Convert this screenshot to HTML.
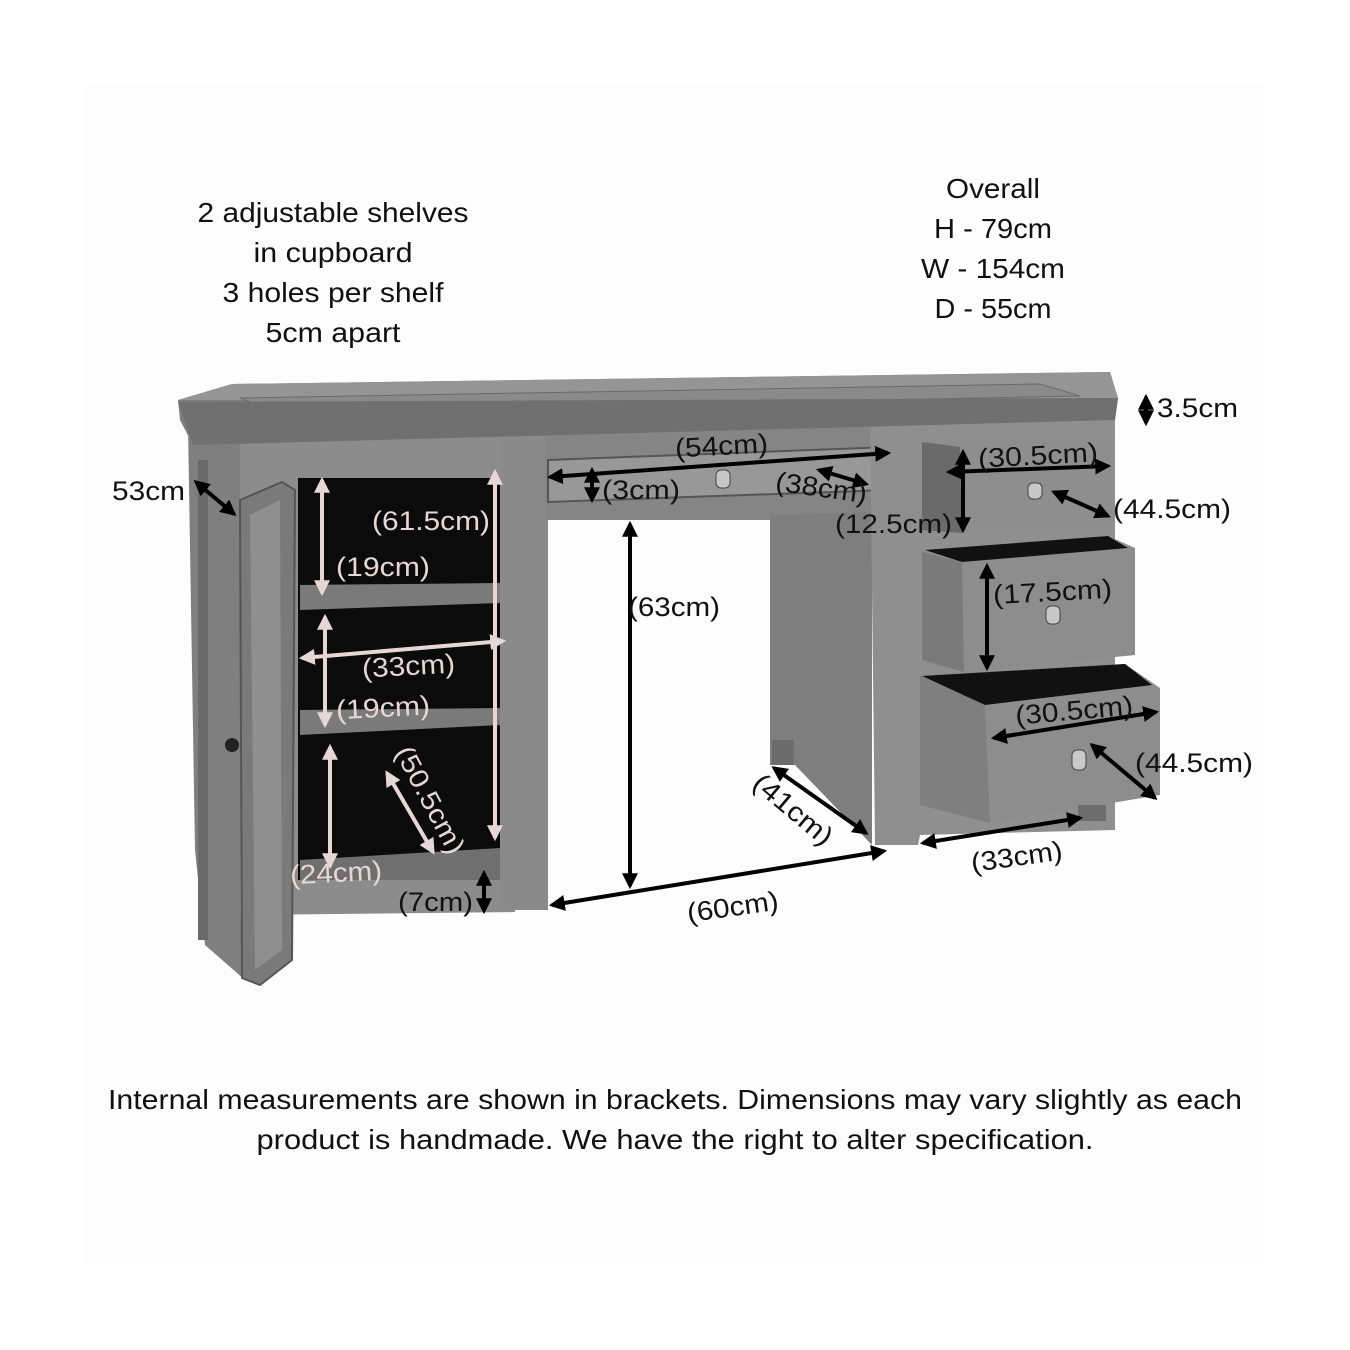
<!DOCTYPE html>
<html><head><meta charset="utf-8"><style>
html,body{margin:0;padding:0;background:#fff;}
svg{display:block;}
text{font-family:"Liberation Sans",sans-serif;}
</style></head><body>
<svg width="1350" height="1350" viewBox="0 0 1350 1350" xmlns="http://www.w3.org/2000/svg">
<defs>
<marker id="ab" viewBox="0 0 10 10" refX="8" refY="5" markerWidth="4" markerHeight="4" orient="auto-start-reverse"><path d="M0,0 L10,5 L0,10 z" fill="#000"/></marker>
<marker id="aw" viewBox="0 0 10 10" refX="8" refY="5" markerWidth="4" markerHeight="4" orient="auto-start-reverse"><path d="M0,0 L10,5 L0,10 z" fill="#e6d6d6"/></marker>
</defs>
<rect x="85" y="85" width="1180" height="1180" fill="#fdfdfd"/>

<polygon points="188,425 245,440 245,980 205,945 195,850" fill="#7f7f7f"/>
<rect x="198" y="460" width="10" height="480" fill="#6a6a6a"/>
<polygon points="240,430 515,425 515,912 240,915" fill="#8c8c8c"/>
<rect x="298" y="478" width="203" height="402" fill="#0b0b0b"/>
<polygon points="300,585 500,583 500,603 300,610" fill="#7a7a7a"/>
<polygon points="300,710 500,708 500,725 300,735" fill="#7a7a7a"/>
<polygon points="300,860 500,848 500,880 300,880" fill="#6f6f6f"/>
<polygon points="240,500 282,482 295,490 292,960 260,985 242,978" fill="#7a7a7a" stroke="#555" stroke-width="2"/>
<polygon points="250,515 280,500 282,950 255,970" fill="#8f8f8f"/>
<circle cx="232" cy="745" r="7" fill="#222"/>
<rect x="500" y="425" width="48" height="485" fill="#8a8a8a"/>
<polygon points="545,425 895,420 895,520 545,520" fill="#858585"/>
<polygon points="548,460 890,447 888,490 548,502" fill="#989898" stroke="#555" stroke-width="2"/>
<rect x="716" y="470" width="14" height="18" rx="5" fill="#c8c8c8" stroke="#444"/>
<polygon points="770,515 872,512 872,845 795,765 770,765" fill="#7e7e7e"/>
<rect x="772" y="740" width="22" height="25" fill="#6c6c6c"/>
<polygon points="870,418 1115,410 1115,830 920,835 918,845 875,845" fill="#8f8f8f"/>
<polygon points="922,442 1085,437 1113,440 1113,528 960,533 922,530" fill="#8e8e8e"/>
<polygon points="922,442 960,447 962,533 922,530" fill="#6a6a6a"/>
<rect x="1028" y="483" width="14" height="16" rx="5" fill="#c8c8c8" stroke="#444"/>
<polygon points="922,550 1108,536 1135,548 1135,655 964,672 922,660" fill="#8d8d8d"/>
<polygon points="925,550 1108,536 1128,548 962,562" fill="#111"/>
<polygon points="922,552 962,562 964,672 922,660" fill="#7a7a7a"/>
<rect x="1046" y="606" width="14" height="18" rx="5" fill="#c8c8c8" stroke="#444"/>
<polygon points="920,675 1125,664 1160,688 1160,795 990,823 920,805" fill="#8d8d8d"/>
<polygon points="922,676 1125,664 1152,685 985,705" fill="#111"/>
<polygon points="920,676 985,705 990,823 920,805" fill="#7f7f7f"/>
<rect x="1072" y="750" width="14" height="20" rx="5" fill="#c8c8c8" stroke="#444"/>
<rect x="1078" y="805" width="28" height="16" fill="#6e6e6e"/>

<polygon points="178,400 232,384 1110,372 1118,398 1115,420 193,445 180,420" fill="#7d7d7d"/>
<polygon points="178,400 232,384 1110,372 1118,398" fill="#959595"/>
<polygon points="240,398 1040,384 1080,396 275,412" fill="#8a8a8a" stroke="#6a6a6a"/>
<polygon points="178,402 1118,398 1115,420 193,445" fill="#707070"/>

<g stroke="#000" stroke-width="4" fill="none" marker-start="url(#ab)" marker-end="url(#ab)">
<line x1="196" y1="482" x2="234" y2="514"/>
<line x1="1146" y1="397" x2="1146" y2="423"/>
<line x1="550" y1="477" x2="888" y2="453"/>
<line x1="592" y1="470" x2="592" y2="500"/>
<line x1="819" y1="470" x2="866" y2="484"/>
<line x1="949" y1="472" x2="1108" y2="466"/>
<line x1="963" y1="452" x2="963" y2="530"/>
<line x1="1054" y1="492" x2="1108" y2="516"/>
<line x1="987" y1="566" x2="987" y2="668"/>
<line x1="994" y1="738" x2="1156" y2="712"/>
<line x1="1092" y1="745" x2="1155" y2="798"/>
<line x1="630" y1="524" x2="630" y2="886"/>
<line x1="552" y1="905" x2="884" y2="851"/>
<line x1="774" y1="768" x2="866" y2="833"/>
<line x1="923" y1="843" x2="1080" y2="818"/>
<line x1="484" y1="873" x2="484" y2="911"/>
</g>
<g stroke="#e6d6d6" stroke-width="4" fill="none" marker-start="url(#aw)" marker-end="url(#aw)">
<line x1="495" y1="472" x2="495" y2="838"/>
<line x1="322" y1="480" x2="322" y2="593"/>
<line x1="302" y1="658" x2="503" y2="641"/>
<line x1="325" y1="617" x2="325" y2="725"/>
<line x1="330" y1="747" x2="330" y2="866"/>
<line x1="387" y1="773" x2="433" y2="852"/>
</g>

<g font-size="28" fill="#111" text-anchor="middle">
<text x="333" y="222" textLength="271" lengthAdjust="spacingAndGlyphs">2 adjustable shelves</text>
<text x="333" y="262" textLength="159" lengthAdjust="spacingAndGlyphs">in cupboard</text>
<text x="333" y="302" textLength="221" lengthAdjust="spacingAndGlyphs">3 holes per shelf</text>
<text x="333" y="342" textLength="135" lengthAdjust="spacingAndGlyphs">5cm apart</text>
<text x="993" y="198" textLength="94" lengthAdjust="spacingAndGlyphs">Overall</text>
<text x="993" y="238" textLength="118" lengthAdjust="spacingAndGlyphs">H - 79cm</text>
<text x="993" y="278" textLength="144" lengthAdjust="spacingAndGlyphs">W - 154cm</text>
<text x="993" y="318" textLength="117" lengthAdjust="spacingAndGlyphs">D - 55cm</text>
<text x="675" y="1109" textLength="1134" lengthAdjust="spacingAndGlyphs">Internal measurements are shown in brackets. Dimensions may vary slightly as each</text>
<text x="675" y="1149" textLength="837" lengthAdjust="spacingAndGlyphs">product is handmade. We have the right to alter specification.</text>
</g>
<g font-size="27" fill="#111">
<text x="112" y="500" textLength="73" lengthAdjust="spacingAndGlyphs">53cm</text>
<text x="1157" y="417" textLength="81" lengthAdjust="spacingAndGlyphs">3.5cm</text>
<text x="675" y="455" textLength="93" lengthAdjust="spacingAndGlyphs" transform="rotate(-3 720 446)">(54cm)</text>
<text x="602" y="499" textLength="78" lengthAdjust="spacingAndGlyphs">(3cm)</text>
<text x="775" y="496" textLength="92" lengthAdjust="spacingAndGlyphs" transform="rotate(8 815 490)">(38cm)</text>
<text x="835" y="533" textLength="117" lengthAdjust="spacingAndGlyphs">(12.5cm)</text>
<text x="978" y="465" textLength="120" lengthAdjust="spacingAndGlyphs" transform="rotate(-3 1030 456)">(30.5cm)</text>
<text x="1113" y="518" textLength="118" lengthAdjust="spacingAndGlyphs">(44.5cm)</text>
<text x="993" y="601" textLength="119" lengthAdjust="spacingAndGlyphs" transform="rotate(-3 1050 592)">(17.5cm)</text>
<text x="1015" y="720" textLength="118" lengthAdjust="spacingAndGlyphs" transform="rotate(-5 1070 710)">(30.5cm)</text>
<text x="1135" y="772" textLength="118" lengthAdjust="spacingAndGlyphs">(44.5cm)</text>
<text x="628" y="616" textLength="92" lengthAdjust="spacingAndGlyphs">(63cm)</text>
<text x="745" y="818" textLength="95" lengthAdjust="spacingAndGlyphs" transform="rotate(40 792 810)">(41cm)</text>
<text x="970" y="866" textLength="92" lengthAdjust="spacingAndGlyphs" transform="rotate(-8 1015 852)">(33cm)</text>
<text x="686" y="916" textLength="92" lengthAdjust="spacingAndGlyphs" transform="rotate(-8 732 902)">(60cm)</text>
<text x="398" y="911" textLength="75" lengthAdjust="spacingAndGlyphs">(7cm)</text>
</g>
<g font-size="27" fill="#e6d6d6">
<text x="372" y="530" textLength="118" lengthAdjust="spacingAndGlyphs">(61.5cm)</text>
<text x="336" y="576" textLength="94" lengthAdjust="spacingAndGlyphs">(19cm)</text>
<text x="362" y="675" textLength="93" lengthAdjust="spacingAndGlyphs" transform="rotate(-3 410 666)">(33cm)</text>
<text x="336" y="717" textLength="94" lengthAdjust="spacingAndGlyphs" transform="rotate(-3 380 708)">(19cm)</text>
<text x="371" y="809" textLength="118" lengthAdjust="spacingAndGlyphs" transform="rotate(62 430 800)">(50.5cm)</text>
<text x="290" y="882" textLength="92" lengthAdjust="spacingAndGlyphs" transform="rotate(-3 335 873)">(24cm)</text>
</g>
</svg>
</body></html>
